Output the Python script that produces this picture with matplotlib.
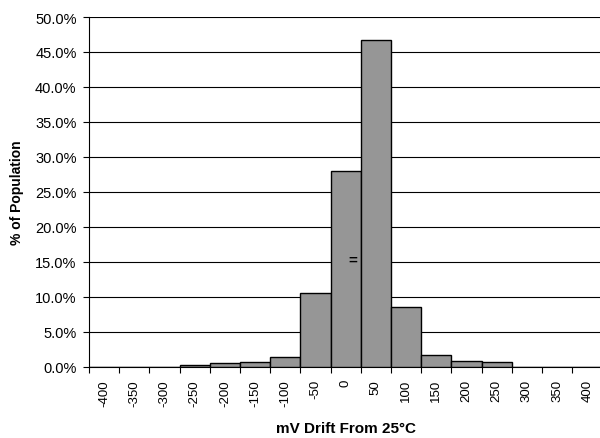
import numpy as np
import matplotlib
matplotlib.use('Agg')
import matplotlib.pyplot as plt
from matplotlib.ticker import PercentFormatter

plt.rcParams['font.family'] = ['Liberation Sans', 'DejaVu Sans']

# drift bins (mV) and share of population (%)
drift_bins = [-400, -350, -300, -250, -200, -150, -100, -50, 0,
              50, 100, 150, 200, 250, 300, 350, 400]
population_pct = [0.0, 0.0, 0.0, 0.2, 0.45, 0.65, 1.3, 10.5, 28.0,
                  46.7, 8.5, 1.65, 0.8, 0.6, 0.0, 0.0, 0.0]
y_ticks = np.arange(0, 50.1, 5)

fig = plt.figure(figsize=(6.0, 4.39), dpi=100)
ax = fig.add_axes([89 / 600, 1 - 367.5 / 439, 513.4 / 600, 349.5 / 439])

x = np.arange(len(drift_bins))
ax.bar(x, population_pct, width=1.0, color='#969696', edgecolor='black',
       linewidth=1.0, zorder=3)

ax.set_xlim(-0.5, len(drift_bins) - 0.5)
ax.set_ylim(0, 50)
ax.set_yticks(y_ticks)
ax.yaxis.set_major_formatter(PercentFormatter(decimals=1))
ax.grid(axis='y', color='black', linewidth=0.8, zorder=0)

# ticks sit on bin edges, labels at bin centres
ax.set_xticks(np.arange(-0.5, len(drift_bins), 1.0))
ax.set_xticklabels([])
ax.set_xticks(x, minor=True)
ax.set_xticklabels([str(v) for v in drift_bins], minor=True, rotation=90,
                   fontsize=9.5)
ax.tick_params(axis='x', which='major', length=4, width=0.8, direction='out')
ax.tick_params(axis='x', which='minor', length=0, pad=9)
ax.tick_params(axis='y', length=4, width=0.8, pad=5, labelsize=10.5)

for side in ['top', 'right']:
    ax.spines[side].set_visible(False)
ax.spines['left'].set_linewidth(0.8)
ax.spines['bottom'].set_linewidth(0.8)

ax.text(8.25, 15.3, '=', ha='center', va='center', fontsize=11,
        fontweight='bold', zorder=4)

ax.set_xlabel('mV Drift From 25°C', fontsize=11, fontweight='bold', labelpad=11)
ax.set_ylabel('% of Population', fontsize=10, fontweight='bold', labelpad=8)

fig.savefig('out.png', dpi=100)
